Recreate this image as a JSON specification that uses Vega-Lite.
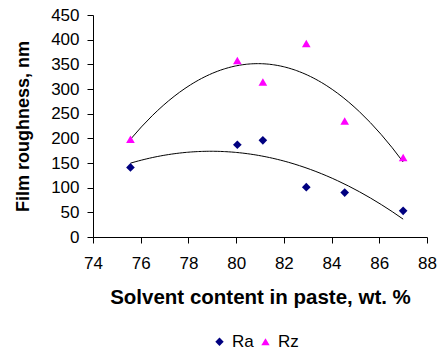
{
  "$schema": "https://vega.github.io/schema/vega-lite/v6.json",
  "width": 334,
  "height": 222,
  "autosize": {"type": "none"},
  "padding": {"left": 93, "top": 15, "right": 11, "bottom": 115},
  "background": "white",
  "config": {
    "view": {"stroke": null},
    "font": "Liberation Sans",
    "axis": {"grid": false, "domainColor": "black", "tickColor": "black", "labelColor": "black", "titleColor": "black", "labelFont": "Liberation Sans", "titleFont": "Liberation Sans", "labelFontSize": 17, "titleFontWeight": "bold", "tickSize": 6, "domainWidth": 1, "tickWidth": 1, "labelBound": false, "labelFlush": false}
  },
  "data": {
    "values": [
      {"x": 75.57, "series": "Ra", "value": 141},
      {"x": 80.05, "series": "Ra", "value": 187},
      {"x": 81.12, "series": "Ra", "value": 196},
      {"x": 82.94, "series": "Ra", "value": 101},
      {"x": 84.55, "series": "Ra", "value": 90},
      {"x": 87.0, "series": "Ra", "value": 53},
      {"x": 75.57, "series": "Rz", "value": 198},
      {"x": 80.05, "series": "Rz", "value": 358},
      {"x": 81.12, "series": "Rz", "value": 314},
      {"x": 82.94, "series": "Rz", "value": 392},
      {"x": 84.55, "series": "Rz", "value": 235},
      {"x": 87.0, "series": "Rz", "value": 161}
    ]
  },
  "encoding": {
    "x": {
      "field": "x", "type": "quantitative",
      "scale": {"domain": [74, 88], "nice": false},
      "axis": {"values": [74, 76, 78, 80, 82, 84, 86, 88], "labelOverlap": false, "labelPadding": 12, "titlePadding": 16, "titleFontSize": 20.5, "title": "Solvent content in paste, wt. %"}
    },
    "y": {
      "field": "value", "type": "quantitative",
      "scale": {"domain": [0, 450], "nice": false},
      "axis": {"values": [0, 50, 100, 150, 200, 250, 300, 350, 400, 450], "labelOverlap": false, "labelPadding": 8, "titlePadding": 18, "titleFontSize": 18, "title": "Film roughness, nm"}
    }
  },
  "layer": [
    {
      "transform": [
        {"regression": "value", "on": "x", "groupby": ["series"], "method": "poly", "order": 2, "extent": [75.57, 87.0]}
      ],
      "mark": {"type": "line", "color": "black", "strokeWidth": 1},
      "encoding": {
        "detail": {"field": "series"}
      }
    },
    {
      "mark": {"type": "point", "filled": true, "opacity": 1},
      "encoding": {
        "color": {
          "field": "series", "type": "nominal",
          "scale": {"domain": ["Ra", "Rz"], "range": ["#000080", "#FF00FF"]},
          "legend": {"orient": "none", "legendX": 118, "legendY": 318, "direction": "horizontal", "title": null, "labelFont": "Liberation Sans", "labelFontSize": 17, "labelColor": "black", "symbolSize": 70, "columnPadding": 3, "labelOffset": 4}
        },
        "shape": {
          "field": "series", "type": "nominal",
          "scale": {"domain": ["Ra", "Rz"], "range": ["diamond", "triangle-up"]}
        },
        "size": {"value": 75}
      }
    }
  ]
}
